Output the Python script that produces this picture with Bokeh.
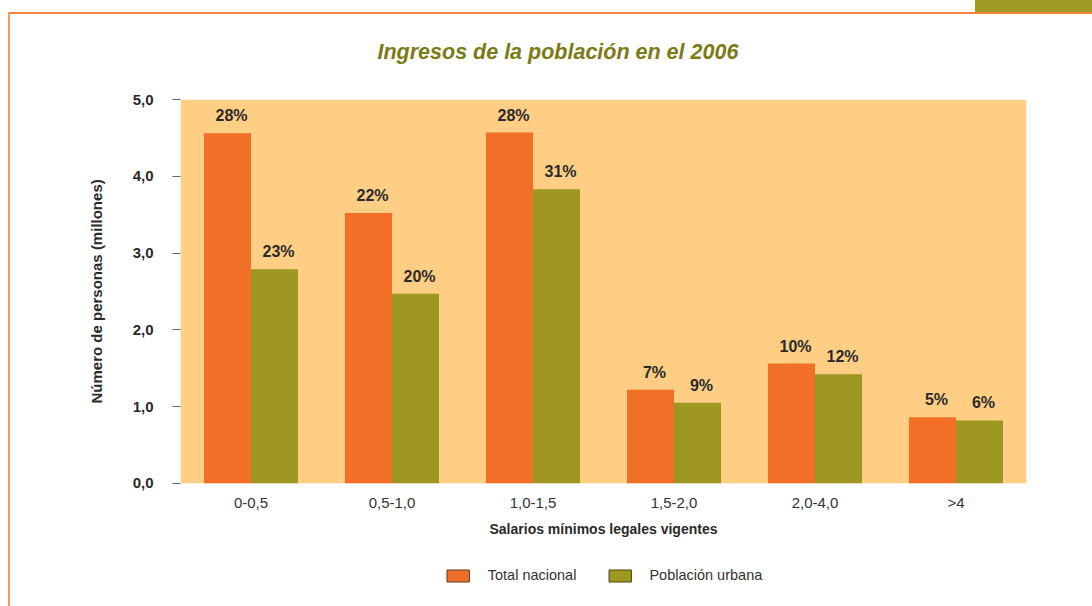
from bokeh.plotting import figure
from bokeh.models import (ColumnDataSource, FactorRange, FixedTicker, Legend, LegendItem, Range1d,
                          InlineStyleSheet, BoxAnnotation, Title)
from bokeh.transform import dodge
from bokeh.core.properties import value
from bokeh.embed import file_html
from bokeh.resources import INLINE

categories = ["0-0,5", "0,5-1,0", "1,0-1,5", "1,5-2,0", "2,0-4,0", ">4"]
total_nacional = [4.56, 3.52, 4.57, 1.22, 1.56, 0.86]
poblacion_urbana = [2.79, 2.47, 3.83, 1.05, 1.42, 0.82]
pct_total = ["28%", "22%", "28%", "7%", "10%", "5%"]
pct_urbana = ["23%", "20%", "31%", "9%", "12%", "6%"]
y_ticks = [0, 1, 2, 3, 4, 5]
y_tick_labels = ["0,0", "1,0", "2,0", "3,0", "4,0", "5,0"]

ORANGE = "#F26F27"
OLIVE = "#9E9721"
BG = "#FDCE84"
TITLE_C = "#7B7A14"
TEXT_C = "#2a2a2a"
FONT = "Liberation Sans"

src = ColumnDataSource(dict(cat=categories, total=total_nacional, urbana=poblacion_urbana,
                            pt=pct_total, pu=pct_urbana))

# frame extends below zero so that the legend can sit inside it
p = figure(frame_width=846, frame_height=499, x_range=FactorRange(*categories), y_range=Range1d(-1.5, 5),
           output_backend="svg", toolbar_location=None,
           min_border_left=180, min_border_right=66, min_border_top=99, min_border_bottom=8)

p.background_fill_color = "white"
p.outline_line_color = None
p.xgrid.grid_line_color = None
p.ygrid.grid_line_color = None

# plot-area colour (0 to 5 only)
p.add_layout(BoxAnnotation(bottom=0, top=5, fill_color=BG, fill_alpha=1, line_alpha=0, level="underlay"))

p.title.text = "Ingresos de la población en el 2006"
p.title.text_font = FONT
p.title.text_font_style = "bold italic"
p.title.text_font_size = "21.5px"
p.title.text_color = TITLE_C
p.title.align = "left"
p.title.offset = 197
p.title.standoff = 72

p.vbar(x=dodge("cat", -1/6, range=p.x_range), top="total", width=1/3, source=src,
       fill_color=ORANGE, line_color=None)
p.vbar(x=dodge("cat", 1/6, range=p.x_range), top="urbana", width=1/3, source=src,
       fill_color=OLIVE, line_color=None)

p.text(x=dodge("cat", -1/6, range=p.x_range), y="total", text="pt", source=src,
       text_font=value(FONT), text_font_style="bold", text_font_size="16px",
       text_color=TEXT_C, text_align="center", text_baseline="bottom", y_offset=-9, x_offset=4)
p.text(x=dodge("cat", 1/6, range=p.x_range), y="urbana", text="pu", source=src,
       text_font=value(FONT), text_font_style="bold", text_font_size="16px",
       text_color=TEXT_C, text_align="center", text_baseline="bottom", y_offset=-9, x_offset=4)

# hidden copies of the bars with outlines, used only for the legend swatches
r1 = p.vbar(x=dodge("cat", -1/6, range=p.x_range), top="total", width=1/3, source=src,
            fill_color=ORANGE, line_color="#5a3d1e", line_width=1, visible=False)
r2 = p.vbar(x=dodge("cat", 1/6, range=p.x_range), top="urbana", width=1/3, source=src,
            fill_color=OLIVE, line_color="#4a4510", line_width=1, visible=False)
legend = Legend(items=[LegendItem(label="Total nacional", renderers=[r1]),
                       LegendItem(label="Población urbana", renderers=[r2])],
                orientation="horizontal", location="bottom_center",
                glyph_width=28, glyph_height=15, label_standoff=16, spacing=29,
                label_text_font=FONT, label_text_font_size="14.5px", label_text_color="#333333",
                border_line_color=None, background_fill_alpha=0, padding=0, margin=15,
                inactive_fill_alpha=0)
p.add_layout(legend, "center")

# y axis
p.yaxis.ticker = FixedTicker(ticks=y_ticks)
p.yaxis.major_label_overrides = dict(zip(y_ticks, y_tick_labels))
p.yaxis.axis_line_color = None
p.yaxis.major_tick_line_color = "#666666"
p.yaxis.major_tick_out = 8
p.yaxis.major_tick_in = 0
p.yaxis.minor_tick_line_color = None
p.yaxis.major_label_standoff = 19
p.yaxis.major_label_text_font = FONT
p.yaxis.major_label_text_font_style = "bold"
p.yaxis.major_label_text_font_size = "15px"
p.yaxis.major_label_text_color = TEXT_C

ylabel = Title(text="Número de personas (millones)", align="left", offset=195, standoff=50,
               text_font=FONT, text_font_style="bold", text_font_size="15px", text_color=TEXT_C)
p.add_layout(ylabel, "left")

# x axis, drawn at y = 0
p.xaxis.fixed_location = 0
p.xaxis.axis_line_color = None
p.xaxis.major_tick_line_color = None
p.xaxis.minor_tick_line_color = None
p.xaxis.major_label_standoff = 5
p.xaxis.major_label_text_font = FONT
p.xaxis.major_label_text_font_size = "15px"
p.xaxis.major_label_text_color = "#333333"
p.xaxis.axis_label = "Salarios mínimos legales vigentes"
p.xaxis.axis_label_text_font = FONT
p.xaxis.axis_label_text_font_style = "bold"
p.xaxis.axis_label_text_font_size = "14px"
p.xaxis.axis_label_text_color = TEXT_C
p.xaxis.axis_label_standoff = 6

# page frame decorations (orange frame lines and green tab at top right)
p.stylesheets = [InlineStyleSheet(css="""
:host { position: relative; }
:host::before { content: ''; position: absolute; left: 8px; top: 12px; right: 0; bottom: 0;
  border-top: 2px solid #F4853F; border-left: 2px solid #F69A62; pointer-events: none; z-index: 10; }
:host::after { content: ''; position: absolute; left: 975px; top: 0; width: 117px; height: 12px;
  background: #9E9A24; pointer-events: none; z-index: 10; }
""")]

open("out.html", "w").write(file_html(p, INLINE))
